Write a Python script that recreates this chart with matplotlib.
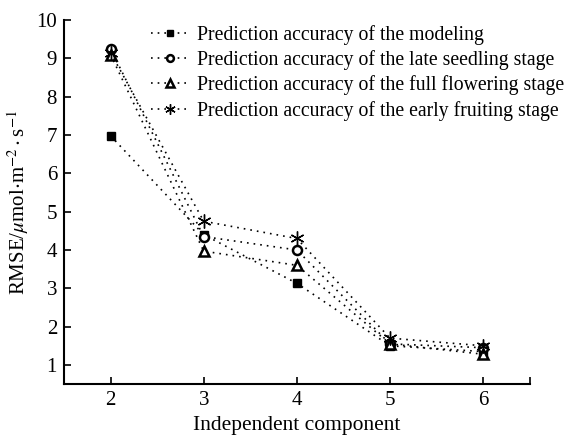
import matplotlib
matplotlib.use('Agg')
import matplotlib.pyplot as plt

plt.rcParams['font.family'] = ['Liberation Serif', 'DejaVu Serif']
plt.rcParams['mathtext.fontset'] = 'stix'

components = [2, 3, 4, 5, 6]
modeling = [6.98, 4.40, 3.13, 1.50, 1.35]
late_seedling = [9.25, 4.35, 4.00, 1.55, 1.45]
full_flowering = [9.10, 3.97, 3.60, 1.55, 1.28]
early_fruiting = [9.15, 4.75, 4.30, 1.70, 1.50]

labels = ['Prediction accuracy of the modeling',
          'Prediction accuracy of the late seedling stage',
          'Prediction accuracy of the full flowering stage',
          'Prediction accuracy of the early fruiting stage']

fig = plt.figure(figsize=(5.66, 4.36), dpi=100)
ax = fig.add_axes([0.113, 0.119, 0.823, 0.835])

common = dict(color='black', linestyle=(0, (1, 3)), linewidth=1.2)
ax.plot(components, modeling, marker='s', markersize=6, label=labels[0], **common)
ax.plot(components, late_seedling, marker='o', markersize=6.5, markerfacecolor='white',
        markeredgewidth=1.8, label=labels[1], **common)
ax.plot(components, full_flowering, marker='^', markersize=7, markerfacecolor='white',
        markeredgewidth=1.8, label=labels[2], **common)
ax.plot(components, early_fruiting, marker=(6, 2, 0), markersize=10, markeredgewidth=1.0,
        label=labels[3], **common)

ax.set_xlim(1.5, 6.5)
ax.set_ylim(0.5, 10)
ax.set_xticks(components)
ax.set_xticks([6.5], minor=True)
ax.set_yticks(range(1, 11))
ax.tick_params(direction='in', length=5, width=1.2, labelsize=15, pad=5)
ax.tick_params(which='minor', direction='in', length=5, width=1.2)
for s in ['top', 'right']:
    ax.spines[s].set_visible(False)
for s in ['left', 'bottom']:
    ax.spines[s].set_linewidth(1.5)

ax.set_xlabel('Independent component', fontsize=15.5, labelpad=4)
ax.set_ylabel(r'RMSE/$\mu$mol$\cdot$m$^{-2}\cdot$s$^{-1}$', fontsize=15, labelpad=4)

ax.legend(loc='upper right', bbox_to_anchor=(1.1, 1.02), frameon=False,
          prop={'size': 14.2}, handlelength=1.9, markerscale=0.75,
          handletextpad=0.45, labelspacing=0.28, borderaxespad=0.2)

fig.savefig('out.png', dpi=100)
